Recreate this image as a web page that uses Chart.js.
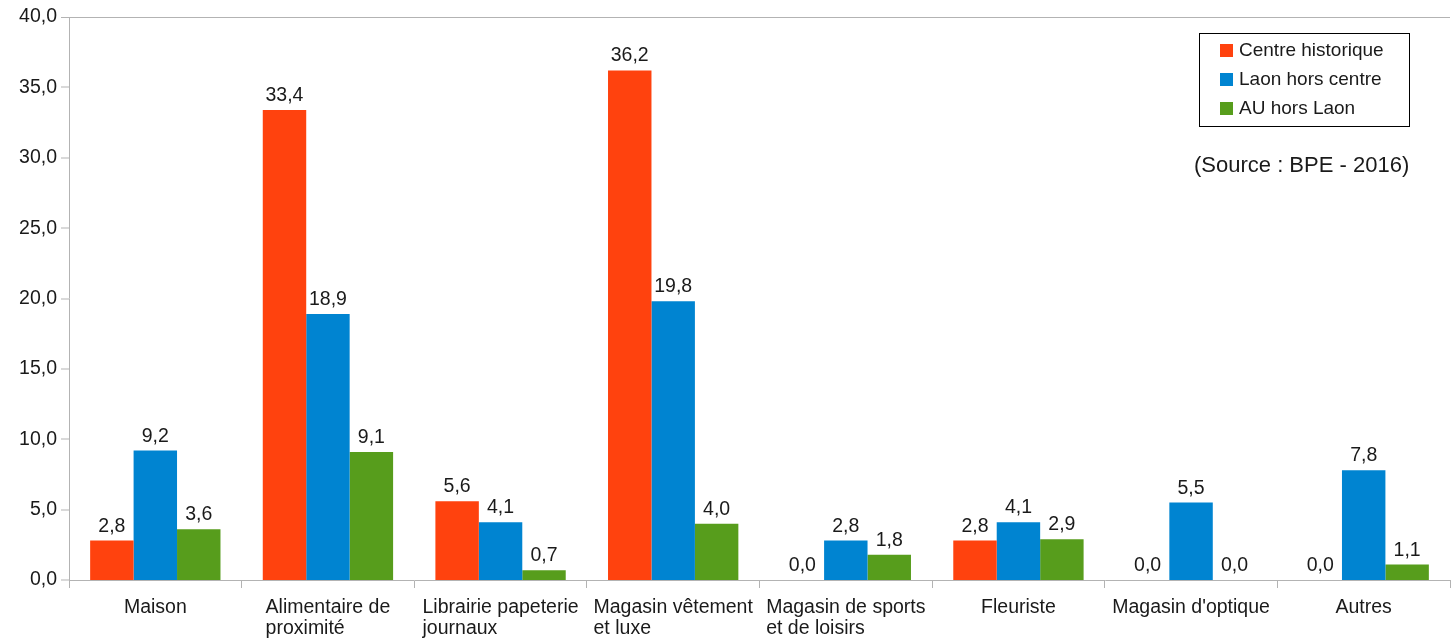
<!DOCTYPE html>
<html>
<head>
<meta charset="utf-8">
<style>
  html, body { margin: 0; padding: 0; background: #ffffff; }
  #wrap { width: 1451px; height: 638px; position: relative; }
</style>
<script src="https://cdn.jsdelivr.net/npm/chart.js@4/dist/chart.umd.min.js"></script>
</head>
<body>
<div id="wrap"><canvas id="chart" width="1451" height="638"></canvas></div>
<script>
// Commerce categories (multi-line labels are arrays of lines)
const categories = [
  "Maison",
  ["Alimentaire de", "proximité"],
  ["Librairie papeterie", "journaux"],
  ["Magasin vêtement", "et luxe"],
  ["Magasin de sports", "et de loisirs"],
  "Fleuriste",
  "Magasin d'optique",
  "Autres"
];

// Share of shops (%) per zone
const centreHistorique = [2.8, 33.4, 5.6, 36.2, 0.0, 2.8, 0.0, 0.0];
const laonHorsCentre   = [9.2, 18.9, 4.1, 19.8, 2.8, 4.1, 5.5, 7.8];
const auHorsLaon       = [3.6, 9.1, 0.7, 4.0, 1.8, 2.9, 0.0, 1.1];

const seriesNames = ["Centre historique", "Laon hors centre", "AU hors Laon"];
const sourceNote = "(Source : BPE - 2016)";

const yTicks = { min: 0, max: 40, step: 5 };

const COLORS = ["#ff420e", "#0084d1", "#579d1c"];
const TEXT = "#1a1a1a";
const AXIS = "#b3b3b3";
const FONT = "'Liberation Sans', Arial, sans-serif";

const fmt = v => v.toFixed(1).replace(".", ",");

// Value labels above every bar
const valueLabels = {
  id: "valueLabels",
  afterDatasetsDraw(chart) {
    const ctx = chart.ctx;
    ctx.save();
    ctx.font = "19.5px " + FONT;
    ctx.fillStyle = TEXT;
    ctx.textAlign = "center";
    ctx.textBaseline = "alphabetic";
    chart.data.datasets.forEach((ds, di) => {
      const meta = chart.getDatasetMeta(di);
      meta.data.forEach((bar, i) => {
        ctx.fillText(fmt(ds.data[i]), bar.x, bar.y - 9);
      });
    });
    ctx.restore();
  }
};

// Category labels under the x axis, lines left-aligned inside a centred block
const categoryLabels = {
  id: "categoryLabels",
  afterDraw(chart) {
    const ctx = chart.ctx;
    const xs = chart.scales.x;
    ctx.save();
    ctx.font = "19.5px " + FONT;
    ctx.fillStyle = TEXT;
    ctx.textAlign = "left";
    ctx.textBaseline = "middle";
    chart.data.labels.forEach((lab, i) => {
      const lines = Array.isArray(lab) ? lab : [lab];
      const w = Math.max(...lines.map(l => ctx.measureText(l).width));
      const cx = xs.getPixelForValue(i);
      lines.forEach((l, k) => {
        ctx.fillText(l, cx - w / 2, xs.top + 28 + k * 21);
      });
    });
    ctx.restore();
  }
};

// Boxed legend and source note in the upper right
const boxedLegend = {
  id: "boxedLegend",
  afterDraw(chart) {
    const ctx = chart.ctx;
    ctx.save();
    ctx.strokeStyle = "#000000";
    ctx.lineWidth = 1;
    ctx.strokeRect(1199.5, 33.5, 210, 93);
    ctx.font = "19px " + FONT;
    ctx.textBaseline = "middle";
    ctx.textAlign = "left";
    chart.data.datasets.forEach((ds, i) => {
      const y = 50.5 + i * 29;
      ctx.fillStyle = ds.backgroundColor;
      ctx.fillRect(1220, y - 6.5, 13, 13);
      ctx.fillStyle = TEXT;
      ctx.fillText(ds.label, 1239, y);
    });
    ctx.font = "22px " + FONT;
    ctx.fillText(sourceNote, 1194, 166);
    ctx.restore();
  }
};

new Chart(document.getElementById("chart"), {
  type: "bar",
  data: {
    labels: categories,
    datasets: [
      { label: seriesNames[0], data: centreHistorique, backgroundColor: COLORS[0] },
      { label: seriesNames[1], data: laonHorsCentre, backgroundColor: COLORS[1] },
      { label: seriesNames[2], data: auHorsLaon, backgroundColor: COLORS[2] }
    ]
  },
  options: {
    responsive: false,
    animation: false,
    devicePixelRatio: 1,
    layout: { padding: { top: 17, right: 1, left: 0, bottom: 0 } },
    datasets: {
      bar: { categoryPercentage: 0.755, barPercentage: 1.0, borderWidth: 0 }
    },
    plugins: {
      legend: { display: false },
      title: { display: false },
      tooltip: { enabled: false }
    },
    scales: {
      x: {
        offset: true,
        grid: {
          offset: true,
          drawOnChartArea: false,
          drawTicks: true,
          tickLength: 8,
          color: AXIS,
          tickColor: AXIS
        },
        border: { display: true, color: AXIS, width: 1 },
        ticks: { display: false },
        afterFit(scale) { scale.height = 58; }
      },
      y: {
        min: yTicks.min,
        max: yTicks.max,
        ticks: {
          stepSize: yTicks.step,
          padding: 4,
          color: TEXT,
          font: { family: FONT, size: 19.5 },
          callback: v => fmt(v)
        },
        grid: {
          drawTicks: true,
          tickLength: 8,
          tickColor: AXIS,
          tickWidth: 1,
          color: AXIS,
          lineWidth: c => (c.tick && c.tick.value === yTicks.max ? 1 : 0)
        },
        border: { display: true, color: AXIS, width: 1 },
        afterFit(scale) { scale.width = 69; }
      }
    }
  },
  plugins: [valueLabels, categoryLabels, boxedLegend]
});
</script>
</body>
</html>
